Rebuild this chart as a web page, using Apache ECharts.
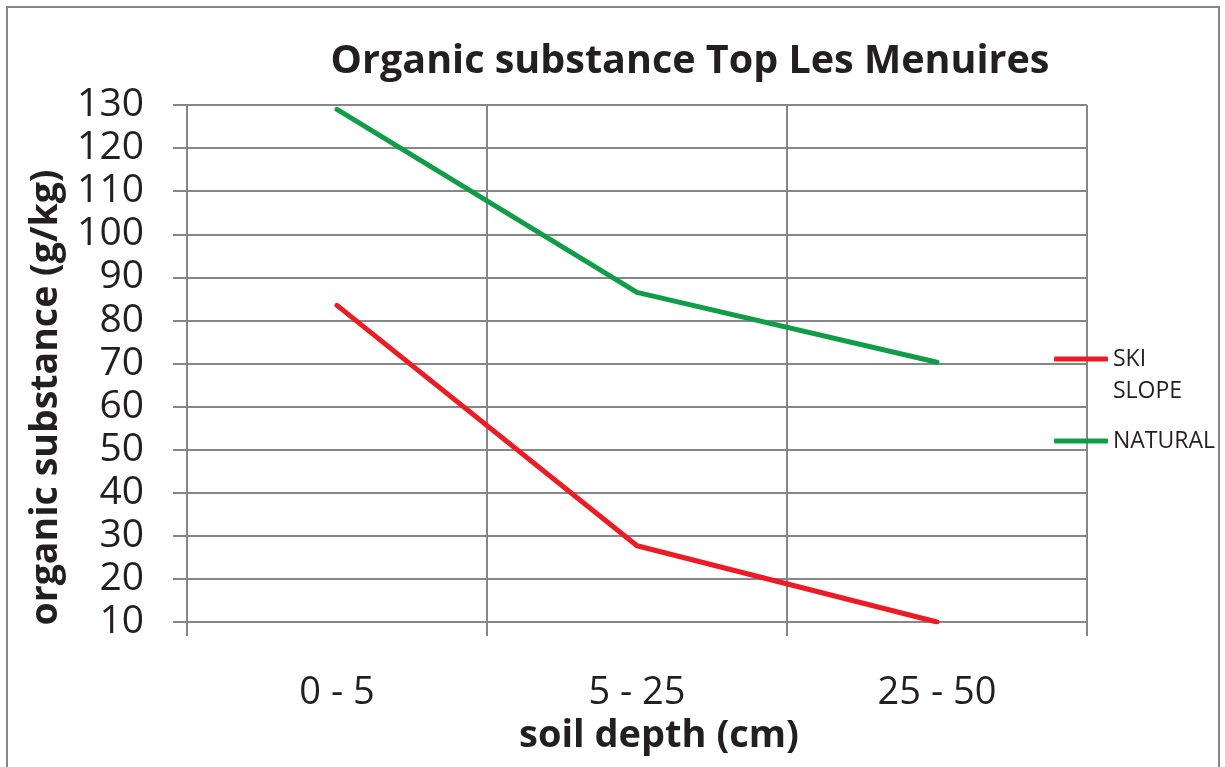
<!DOCTYPE html>
<html>
<head>
<meta charset="utf-8">
<script src="https://cdn.jsdelivr.net/npm/echarts@6/dist/echarts.min.js"></script>
<style>
html,body{margin:0;padding:0;background:#fff;}
#chart{width:1225px;height:767px;position:relative;}
#frame{position:absolute;left:6px;top:6px;width:1214px;height:820px;border:2px solid #878787;box-sizing:border-box;pointer-events:none;}
</style>
</head>
<body>
<div style="position:relative;width:1225px;height:767px;overflow:hidden;">
<div id="chart"></div>
<div id="frame"></div>
</div>
<script>
const titleText = 'Organic substance Top Les Menuires';
const categories = ['0 - 5', '5 - 25', '25 - 50'];
const skiSlope = [83.5, 27.7, 10];
const natural = [129, 86.5, 70.3];
const seriesNames = ['SKI SLOPE', 'NATURAL'];
const yMin = 10, yMax = 130, yStep = 10;
const xName = 'soil depth (cm)';
const yName = 'organic substance (g/kg)';

const FONT = 'Open Sans';
const TXT = '#231f20';
const GRID = '#878787';

const chart = echarts.init(document.getElementById('chart'));
chart.setOption({
  animation: false,
  backgroundColor: '#fff',
  title: {
    text: titleText,
    left: 685,
    top: 37,
    textAlign: 'center',
    textStyle: { fontFamily: FONT, fontSize: 39.5, fontWeight: 'bold', color: TXT }
  },
  legend: {
    orient: 'vertical',
    left: 1054,
    top: 311,
    padding: 0,
    itemWidth: 54,
    itemHeight: 5,
    itemGap: 18,
    icon: 'roundRect',
    data: seriesNames,
    formatter: function (n) { return n === seriesNames[0] ? '\nSKI\nSLOPE' : n; },
    textStyle: { fontFamily: FONT, fontSize: 23, color: TXT, lineHeight: 32 }
  },
  grid: { left: 187, right: 138, top: 105, bottom: 145, containLabel: false, outerBoundsMode: 'none' },
  xAxis: {
    type: 'category',
    data: categories,
    boundaryGap: true,
    name: xName,
    nameLocation: 'middle',
    nameGap: 93,
    nameTextStyle: { fontFamily: FONT, fontSize: 38, fontWeight: 'bold', color: TXT, padding: [0, 0, 0, 44] },
    axisLine: { show: true, lineStyle: { color: GRID, width: 2 } },
    axisTick: { show: true, length: 14, alignWithLabel: false, lineStyle: { color: GRID, width: 2 } },
    splitLine: { show: true, lineStyle: { color: GRID, width: 2 } },
    axisLabel: { fontFamily: FONT, fontSize: 38, color: TXT, margin: 52 }
  },
  yAxis: {
    type: 'value',
    min: yMin,
    max: yMax,
    interval: yStep,
    name: yName,
    nameLocation: 'middle',
    nameRotate: 90,
    nameGap: 122,
    nameTextStyle: { fontFamily: FONT, fontSize: 37.5, fontWeight: 'bold', color: TXT, padding: [0, 68, 0, 0] },
    axisLine: { show: true, lineStyle: { color: GRID, width: 2 } },
    axisTick: { show: true, length: 14, lineStyle: { color: GRID, width: 2 } },
    splitLine: { show: true, lineStyle: { color: GRID, width: 2 } },
    axisLabel: { fontFamily: FONT, fontSize: 39, color: TXT, margin: 43 }
  },
  series: [
    {
      name: seriesNames[0], type: 'line', data: skiSlope,
      symbol: 'none', color: '#ed1c24',
      lineStyle: { width: 5, color: '#ed1c24', cap: 'round' }
    },
    {
      name: seriesNames[1], type: 'line', data: natural,
      symbol: 'none', color: '#0f9d48',
      lineStyle: { width: 5, color: '#0f9d48', cap: 'round' }
    }
  ]
});
</script>
</body>
</html>
